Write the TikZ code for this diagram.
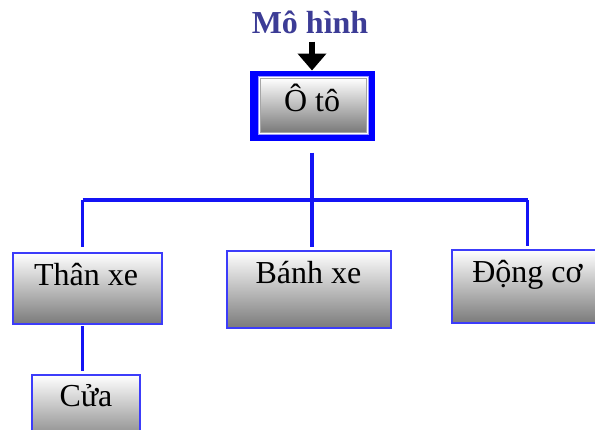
\documentclass[tikz,border=0pt]{standalone}
\usepackage{fontspec}
\setmainfont{Liberation Serif}
\usetikzlibrary{arrows.meta}
\definecolor{lineblue}{RGB}{20,20,245}
\definecolor{boxblue}{RGB}{60,60,250}
\definecolor{titleblue}{RGB}{60,60,150}
\begin{document}
\begin{tikzpicture}[x=1pt,y=-1pt,
  box/.style={draw=boxblue, line width=2.5pt, top color=white, bottom color=black!52, inner sep=0pt},
  lbl/.style={font=\fontsize{32}{34}\selectfont, text=black, anchor=base, inner sep=0pt},
  conn/.style={draw=lineblue, line width=3.5pt}
]
\useasboundingbox (0,0) rectangle (595,429);
\clip (0,0) rectangle (595,429);
% title and arrow
\node[font=\bfseries\fontsize{32}{34}\selectfont, text=titleblue, anchor=base, inner sep=0pt] (mh) at (310,33) {Mô hình};
% root box
\node[fill=blue, draw=blue, line width=1pt, minimum width=124pt, minimum height=69pt, inner sep=0pt] (otoframe) at (312,105.5) {};
\node[fill=white, draw=blue!40, line width=1pt, minimum width=110pt, minimum height=58pt, inner sep=0pt] (otogap) at (313,105) {};
\node[draw=gray!70, line width=1pt, top color=white, bottom color=black!52, minimum width=106pt, minimum height=54pt, inner sep=0pt] (oto) at (313,105) {};
\node[lbl] (otot) at (312,111) {Ô tô};
\draw[line width=6pt, -{Triangle[width=28pt,length=17pt]}, shorten <=8pt] (mh.south -| otoframe.north) -- (otoframe.north);
% children
\node[box, minimum width=149pt, minimum height=71pt] (tx) at (87.5,288.5) {};
\node[lbl] (txt) at (86,285) {Thân xe};
\node[box, minimum width=164pt, minimum height=77pt] (bx) at (309,289.5) {};
\node[lbl] (bxt) at (308.5,283) {Bánh xe};
\node[box, minimum width=168pt, minimum height=73pt] (dc) at (536,286.5) {};
\node[lbl] (dct) at (527.5,282) {Động cơ};
\node[box, minimum width=108pt, minimum height=72pt] (cua) at (86,411) {};
\node[lbl] (cuat) at (86,406) {Cửa};
% connectors
\coordinate (jl) at (82.5,200);
\coordinate (jr) at (527.5,200);
\draw[conn, shorten <=20pt, shorten >=3pt] (oto.south -| 312,0) -- (312,0 |- bx.north);
\draw[conn] (jl) -- (jr);
\draw[conn, shorten >=5pt] (jl) -- (jl |- tx.north);
\draw[conn, shorten >=3pt] (jr) -- (jr |- dc.north);
\draw[conn, shorten <=1pt, shorten >=3pt] (jl |- tx.south) -- (jl |- cua.north);
\end{tikzpicture}
\end{document}
